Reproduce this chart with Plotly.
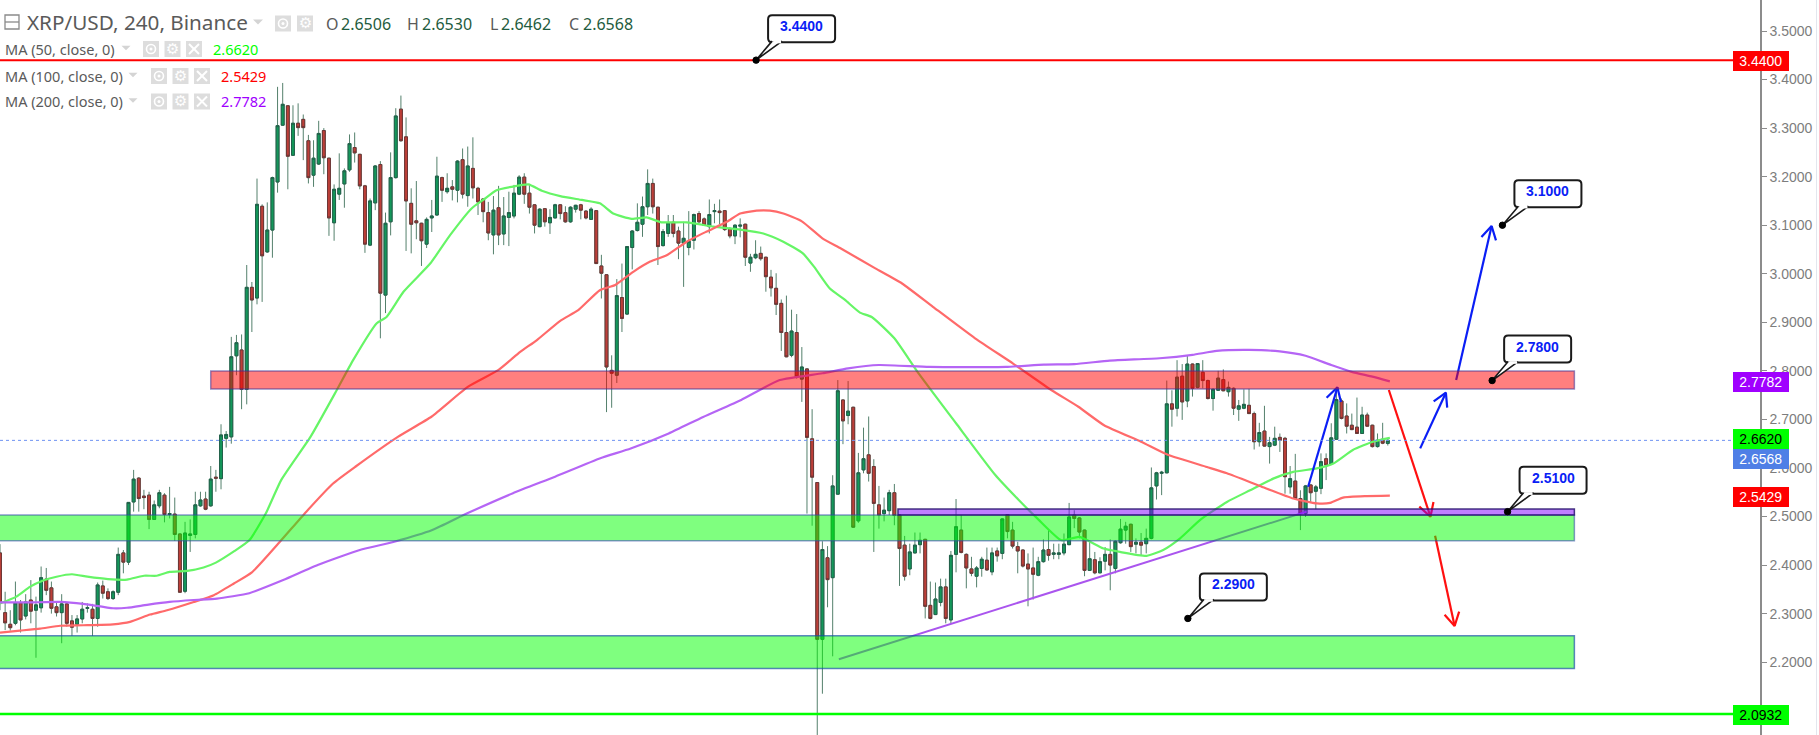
import math
import plotly.graph_objects as go

W, H = 1819, 735
AXIS_PX = 1760
PX_PER_BAR = 5.14
PX_PER_UNIT = 485.5
Y_TOP = 3.56385
Y_BOTTOM = 2.04995

opens = [
 2.425,2.302,2.278,2.280,2.322,2.295,2.328,2.307,2.312,2.371,
 2.353,2.314,2.302,2.320,2.285,2.278,2.289,2.311,2.309,2.290,
 2.357,2.345,2.331,2.344,2.425,2.406,2.530,2.579,2.542,2.544,
 2.494,2.522,2.544,2.504,2.505,2.464,2.346,2.461,2.463,2.522,
 2.536,2.522,2.581,2.578,2.661,2.664,2.831,2.843,2.762,2.972,
 2.950,3.139,3.045,3.090,3.189,3.306,3.346,3.244,3.310,3.318,
 3.274,3.203,3.226,3.295,3.238,3.105,3.164,3.185,3.214,3.260,
 3.246,3.181,3.059,3.146,3.225,2.956,3.107,3.198,3.339,3.282,
 3.145,3.109,3.104,3.061,3.115,3.121,3.198,3.169,3.179,3.172,
 3.235,3.161,3.217,3.176,3.154,3.126,3.080,3.136,3.082,3.116,
 3.119,3.164,3.199,3.166,3.142,3.097,3.134,3.105,3.115,3.142,
 3.126,3.107,3.133,3.142,3.129,3.112,3.130,3.016,2.998,2.801,
 2.791,2.951,2.917,3.054,3.089,3.102,3.138,3.186,3.137,3.058,
 3.083,3.106,3.088,3.063,3.054,3.069,3.124,3.113,3.097,3.128,
 3.129,3.130,3.093,3.078,3.098,3.102,3.022,3.033,3.042,3.034,
 2.993,2.970,2.939,2.879,2.832,2.879,2.783,2.804,2.660,2.570,
 2.247,2.415,2.374,2.546,2.740,2.708,2.725,2.491,2.596,2.627,
 2.603,2.524,2.506,2.512,2.549,2.503,2.441,2.392,2.425,2.442,
 2.453,2.317,2.298,2.323,2.355,2.287,2.422,2.472,2.422,2.392,
 2.377,2.393,2.410,2.386,2.429,2.424,2.504,2.472,2.438,2.431,
 2.402,2.394,2.379,2.407,2.432,2.422,2.422,2.425,2.442,2.503,
 2.497,2.472,2.389,2.411,2.384,2.408,2.422,2.393,2.446,2.472,
 2.484,2.443,2.447,2.444,2.455,2.563,2.589,2.590,2.732,2.723,
 2.789,2.738,2.814,2.766,2.797,2.780,2.743,2.760,2.782,2.757,
 2.764,2.721,2.723,2.729,2.712,2.654,2.676,2.644,2.647,2.663,
 2.661,2.561,2.573,2.537,2.506,2.565,2.552,2.558,2.619,2.608,
 2.659,2.738,2.707,2.688,2.684,2.671,2.709,2.688,2.644,2.659,2.6506,
]
highs = [
 2.443,2.345,2.307,2.366,2.328,2.340,2.369,2.335,2.397,2.394,
 2.366,2.324,2.340,2.324,2.297,2.297,2.324,2.321,2.320,2.364,
 2.368,2.352,2.348,2.436,2.431,2.529,2.596,2.581,2.555,2.551,
 2.533,2.555,2.548,2.561,2.539,2.465,2.489,2.494,2.551,2.551,
 2.551,2.604,2.596,2.690,2.676,2.870,2.874,2.875,3.018,2.983,
 3.196,3.143,3.147,3.200,3.385,3.393,3.347,3.347,3.351,3.328,
 3.286,3.275,3.315,3.300,3.239,3.184,3.248,3.217,3.287,3.291,
 3.247,3.183,3.155,3.224,3.232,3.126,3.250,3.341,3.367,3.322,
 3.176,3.191,3.105,3.116,3.152,3.241,3.200,3.207,3.193,3.234,
 3.258,3.262,3.281,3.179,3.155,3.148,3.160,3.181,3.158,3.169,
 3.183,3.203,3.207,3.185,3.143,3.135,3.135,3.133,3.144,3.143,
 3.139,3.139,3.142,3.144,3.131,3.137,3.131,3.039,2.999,2.832,
 2.989,3.021,3.057,3.090,3.145,3.159,3.215,3.196,3.138,3.092,
 3.121,3.121,3.097,3.107,3.129,3.124,3.129,3.116,3.153,3.144,
 3.153,3.131,3.096,3.102,3.114,3.103,3.041,3.069,3.056,3.035,
 3.008,3.001,2.947,2.955,2.926,2.917,2.849,2.805,2.721,2.571,
 2.449,2.439,2.585,2.781,2.741,2.779,2.726,2.631,2.683,2.706,
 2.618,2.563,2.539,2.555,2.567,2.504,2.460,2.444,2.467,2.467,
 2.454,2.366,2.364,2.372,2.372,2.429,2.536,2.503,2.424,2.417,
 2.398,2.417,2.436,2.436,2.436,2.496,2.505,2.489,2.448,2.432,
 2.424,2.436,2.417,2.453,2.474,2.444,2.444,2.465,2.528,2.513,
 2.499,2.473,2.448,2.427,2.416,2.437,2.453,2.451,2.495,2.489,
 2.485,2.455,2.466,2.475,2.601,2.592,2.594,2.780,2.760,2.822,
 2.814,2.831,2.815,2.816,2.822,2.782,2.764,2.800,2.803,2.778,
 2.766,2.740,2.762,2.763,2.716,2.693,2.728,2.664,2.685,2.671,
 2.664,2.604,2.629,2.554,2.565,2.566,2.565,2.630,2.630,2.692,
 2.765,2.743,2.733,2.712,2.745,2.726,2.714,2.689,2.671,2.693,2.662,
]
lows = [
 2.307,2.266,2.265,2.276,2.261,2.288,2.280,2.209,2.302,2.338,
 2.300,2.294,2.239,2.273,2.254,2.261,2.280,2.302,2.254,2.273,
 2.331,2.328,2.328,2.338,2.383,2.400,2.510,2.510,2.515,2.474,
 2.493,2.517,2.488,2.496,2.450,2.343,2.342,2.427,2.455,2.520,
 2.513,2.520,2.551,2.556,2.642,2.650,2.791,2.721,2.731,2.880,
 2.937,2.942,3.043,3.033,3.167,3.305,3.174,3.243,3.284,3.234,
 3.186,3.179,3.224,3.205,3.078,3.068,3.152,3.136,3.210,3.229,
 3.174,3.043,3.057,3.131,2.867,2.919,3.079,3.196,3.272,3.047,
 3.042,3.071,3.016,3.053,3.086,3.120,3.148,3.165,3.151,3.147,
 3.155,3.138,3.155,3.121,3.106,3.069,3.040,3.059,3.059,3.057,
 3.114,3.162,3.144,3.124,3.083,3.096,3.097,3.082,3.114,3.112,
 3.105,3.105,3.126,3.112,3.112,3.111,3.020,2.949,2.715,2.724,
 2.775,2.880,2.915,3.009,3.087,3.076,3.121,3.124,3.018,3.056,
 3.076,3.075,3.030,2.973,3.038,3.050,3.104,3.099,3.083,3.104,
 3.102,3.088,3.073,3.061,3.075,3.016,3.004,3.030,3.027,2.963,
 2.953,2.915,2.841,2.828,2.828,2.784,2.736,2.506,2.481,2.050,
 2.135,2.313,2.212,2.545,2.649,2.690,2.477,2.487,2.589,2.572,
 2.427,2.475,2.490,2.503,2.482,2.357,2.368,2.379,2.424,2.424,
 2.290,2.288,2.297,2.315,2.280,2.280,2.385,2.424,2.352,2.377,
 2.354,2.376,2.388,2.379,2.407,2.412,2.455,2.434,2.383,2.395,
 2.315,2.329,2.377,2.405,2.409,2.412,2.412,2.420,2.441,2.476,
 2.455,2.377,2.388,2.381,2.383,2.389,2.348,2.383,2.444,2.444,
 2.427,2.424,2.420,2.424,2.453,2.535,2.544,2.589,2.685,2.706,
 2.699,2.725,2.747,2.764,2.764,2.741,2.718,2.759,2.758,2.747,
 2.709,2.697,2.721,2.711,2.638,2.644,2.644,2.609,2.645,2.633,
 2.547,2.547,2.536,2.472,2.499,2.530,2.515,2.546,2.575,2.606,
 2.658,2.700,2.671,2.678,2.670,2.670,2.685,2.642,2.642,2.649,2.6462,
]
closes = [
 2.321,2.281,2.271,2.322,2.287,2.324,2.305,2.318,2.374,2.348,
 2.311,2.302,2.320,2.280,2.272,2.289,2.309,2.312,2.290,2.359,
 2.342,2.331,2.345,2.422,2.406,2.529,2.577,2.537,2.539,2.494,
 2.524,2.549,2.504,2.506,2.463,2.344,2.466,2.464,2.524,2.534,
 2.515,2.577,2.579,2.668,2.669,2.829,2.858,2.762,2.972,2.946,
 3.143,3.037,3.090,3.198,3.305,3.349,3.242,3.310,3.301,3.301,
 3.198,3.238,3.289,3.239,3.115,3.174,3.176,3.212,3.268,3.249,
 3.181,3.061,3.150,3.222,2.960,3.104,3.198,3.325,3.274,3.150,
 3.102,3.105,3.068,3.112,3.119,3.201,3.172,3.176,3.174,3.232,
 3.164,3.222,3.177,3.148,3.128,3.084,3.131,3.080,3.119,3.126,
 3.166,3.199,3.164,3.137,3.100,3.133,3.107,3.116,3.142,3.124,
 3.107,3.137,3.141,3.131,3.115,3.133,3.021,3.001,2.808,2.795,
 2.955,2.908,3.056,3.088,3.106,3.138,3.186,3.138,3.056,3.087,
 3.105,3.083,3.063,3.073,3.067,3.122,3.107,3.100,3.122,3.130,
 3.126,3.091,3.078,3.100,3.100,3.034,3.034,3.040,3.031,2.994,
 2.971,2.937,2.879,2.829,2.882,2.788,2.808,2.663,2.581,2.247,
 2.432,2.370,2.563,2.759,2.697,2.717,2.478,2.590,2.619,2.589,
 2.527,2.503,2.513,2.549,2.502,2.434,2.377,2.427,2.441,2.451,
 2.315,2.290,2.330,2.355,2.290,2.420,2.479,2.426,2.394,2.383,
 2.394,2.412,2.390,2.425,2.419,2.495,2.469,2.439,2.429,2.398,
 2.392,2.381,2.407,2.431,2.420,2.425,2.425,2.443,2.499,2.496,
 2.468,2.389,2.413,2.384,2.407,2.422,2.400,2.449,2.474,2.480,
 2.438,2.447,2.441,2.455,2.559,2.590,2.591,2.732,2.721,2.787,
 2.736,2.814,2.764,2.815,2.780,2.743,2.762,2.785,2.759,2.766,
 2.723,2.728,2.731,2.712,2.654,2.673,2.645,2.652,2.661,2.657,
 2.582,2.578,2.537,2.506,2.563,2.549,2.561,2.613,2.606,2.662,
 2.741,2.702,2.686,2.679,2.671,2.709,2.686,2.644,2.657,2.651,2.6568,
]
bars = list(range(len(opens)))

ma50_x = [0,3.2,5.8,8.4,11,14,17,21,24.7,28,30.5,33,36.4,39.6,42,45.5,48.5,51.7,54.7,60.4,65.5,68.7,73.3,75.2,78.5,83.7,87.6,91.8,94,96.6,99.5,102.8,105.4,109,113.2,116.7,119.3,122.9,125.8,128.7,133.6,138.8,144,148.5,152.4,156.2,158.4,161.4,164.4,167.3,169.6,174,178.5,186,193.6,198.2,202,206.5,210,214.7,217.9,223.1,226.3,229.6,233.5,238.7,243.2,247.7,251.6,256.2,259.4,263.2,267.1,270.4]
ma50_y = [2.321,2.335,2.355,2.368,2.376,2.381,2.376,2.371,2.370,2.378,2.378,2.386,2.388,2.395,2.405,2.428,2.451,2.506,2.575,2.664,2.760,2.822,2.898,2.911,2.963,3.021,3.080,3.135,3.152,3.172,3.179,3.184,3.171,3.160,3.152,3.145,3.124,3.113,3.116,3.106,3.106,3.097,3.091,3.083,3.066,3.042,3.014,2.970,2.946,2.920,2.911,2.867,2.798,2.692,2.586,2.534,2.494,2.451,2.458,2.434,2.427,2.419,2.431,2.455,2.493,2.530,2.554,2.578,2.592,2.599,2.609,2.637,2.654,2.662]
ma100_x = [0,3.9,7.8,11.7,16.2,22,25.3,29.2,32.5,37.7,41.6,45.5,49,54.7,59.6,64.8,69.2,77.4,84,91,97,101.2,104.4,109,112.5,116.7,119.7,123.2,126.5,129.7,133.6,137.5,141.4,144,147.2,149.8,152.4,156,160,163.6,170.3,175.5,181.5,189.7,197.1,204.6,209.8,214.8,222,227.2,234.8,238.7,245.1,251.6,256.2,258.8,261.3,265.9,270.4]
ma100_y = [2.261,2.265,2.269,2.275,2.276,2.278,2.283,2.298,2.307,2.324,2.338,2.362,2.385,2.451,2.510,2.568,2.603,2.664,2.706,2.767,2.802,2.839,2.863,2.903,2.925,2.966,2.977,3.004,3.025,3.038,3.066,3.087,3.107,3.124,3.130,3.130,3.124,3.108,3.073,3.052,3.011,2.980,2.932,2.867,2.815,2.760,2.726,2.688,2.654,2.627,2.602,2.589,2.563,2.537,2.527,2.528,2.539,2.542,2.5429]
ma200_x = [0,5.8,11.7,16.2,22,24.7,28.6,33,37.7,42.2,48.5,55.1,61.8,70,76.7,84.1,90.8,99.8,108,116.8,122.7,130.1,136.8,144.2,151.7,160,165,171,180.8,195.7,203.1,209,215.9,225.6,232,236.7,243,249,254,259,263,267,270.4]
ma200_y = [2.323,2.323,2.324,2.320,2.311,2.312,2.318,2.324,2.328,2.331,2.342,2.369,2.400,2.431,2.448,2.472,2.506,2.548,2.582,2.620,2.640,2.671,2.705,2.740,2.781,2.795,2.805,2.812,2.808,2.808,2.813,2.814,2.821,2.826,2.833,2.841,2.843,2.840,2.831,2.812,2.798,2.788,2.7782]

y_ticks = [2.2,2.3,2.4,2.5,2.6,2.7,2.8,2.9,3.0,3.1,3.2,3.3,3.4,3.5]
level_high, level_low, last_price = 3.44, 2.0932, 2.6568
zone_x0 = [41,-2,-2,174.7]
zone_x1 = [306.3,306.3,306.3,306.3]
zone_top = [2.7997,2.503,2.2545,2.5155]
zone_bottom = [2.7626,2.450,2.187,2.503]
zone_fill = ["rgba(255,0,0,0.5)","rgba(0,255,0,0.5)","rgba(0,255,0,0.5)","rgba(128,0,255,0.5)"]
zone_edge = ["rgba(60,50,150,0.55)","rgba(50,70,170,0.55)","rgba(20,70,170,0.65)","rgba(40,20,110,0.85)"]
trend_x = [163.2,254.2]
trend_y = [2.206,2.510]
arrow_start_x = [254.5,276.3,283.3,270.2,279.2]
arrow_start_y = [2.5614,2.6404,2.7812,2.7606,2.4605]
arrow_end_x = [260.2,281.3,290.2,278.3,283.0]
arrow_end_y = [2.7661,2.755,3.0983,2.4996,2.2745]
arrow_color = ["#0a1ef5","#0a1ef5","#0a1ef5","#ff1010","#ff1010"]
callout_x = [147.1,292.3,290.3,293.3,231.1]
callout_y = [3.44,3.10,2.78,2.51,2.29]
price_tags = [("3.4400",3.44,"#ff0000","#ffffff",-1),("2.7782",2.7782,"#a000ff","#ffffff",-1),
              ("2.6620",2.662,"#00ff00","#000000",-1),("2.6568",2.6568,"#4f7fe6","#ffffff",-19),
              ("2.5429",2.5429,"#ff0000","#ffffff",-1),("2.0932",2.0932,"#00ff00","#000000",-1)]
legend_rows = [("MA (50, close, 0)","2.6620","#00ff00",49,121,143,212),
               ("MA (100, close, 0)","2.5429","#ff0000",76,128,151,220),
               ("MA (200, close, 0)","2.7782","#a000ff",101.5,128,151,220)]
ohlc_text = [("O","2.6506",324.5,340),("H","2.6530",406,421),("L","2.6462",489,500),("C","2.6568",567.5,582)]

def px(x): return x/W
def py(y): return 1-y/H

fig = go.Figure()
fig.add_trace(go.Candlestick(x=bars,open=opens,high=highs,low=lows,close=closes,whiskerwidth=0,
    increasing=dict(line=dict(color="#54806c",width=1),fillcolor="rgba(0,0,0,0)"),
    decreasing=dict(line=dict(color="#54806c",width=1),fillcolor="rgba(0,0,0,0)"),hoverinfo="skip",showlegend=False))
tops=[max(o,c) for o,c in zip(opens,closes)]
bots=[min(o,c) for o,c in zip(opens,closes)]
fig.add_trace(go.Candlestick(x=bars,open=opens,high=tops,low=bots,close=closes,whiskerwidth=0,
    increasing=dict(line=dict(color="#22604a",width=1),fillcolor="#13985a"),
    decreasing=dict(line=dict(color="#6e3636",width=1),fillcolor="#bd3f38"),hoverinfo="skip",showlegend=False))
for xs,ys,c in [(ma50_x,ma50_y,"#66f566"),(ma100_x,ma100_y,"#ff6a6a"),(ma200_x,ma200_y,"#b565f5")]:
    fig.add_trace(go.Scatter(x=xs,y=ys,mode="lines",line=dict(color=c,width=2.2,shape="spline",smoothing=0.5),hoverinfo="skip",showlegend=False))
fig.add_trace(go.Scatter(x=trend_x,y=trend_y,mode="lines",line=dict(color="#aa55ee",width=2),hoverinfo="skip",showlegend=False))

for x0,y0,x1,y1,c in zip(arrow_start_x,arrow_start_y,arrow_end_x,arrow_end_y,arrow_color):
    dx=(x0-x1)*PX_PER_BAR; dy=(y0-y1)*PX_PER_UNIT
    n=math.hypot(dx,dy); dx/=n; dy/=n
    hx=[];hy=[]
    for a in (0.52,-0.52):
        rx=dx*math.cos(a)-dy*math.sin(a); ry=dx*math.sin(a)+dy*math.cos(a)
        hx.append(x1+rx*15/PX_PER_BAR); hy.append(y1+ry*15/PX_PER_UNIT)
    fig.add_trace(go.Scatter(x=[x0,x1,None,hx[0],x1,hx[1]],y=[y0,y1,None,hy[0],y1,hy[1]],mode="lines",
        line=dict(color=c,width=2.2),hoverinfo="skip",showlegend=False))

shapes=[]; ann=[]
for x0,x1,t,b,f,e in zip(zone_x0,zone_x1,zone_top,zone_bottom,zone_fill,zone_edge):
    shapes.append(dict(type="rect",xref="x",yref="y",x0=x0,x1=x1,y0=b,y1=t,fillcolor=f,line=dict(color=e,width=1.5),layer="above"))
shapes.append(dict(type="line",xref="x domain",yref="y",x0=0,x1=1,y0=level_high,y1=level_high,line=dict(color="#ff0000",width=2),layer="above"))
shapes.append(dict(type="line",xref="x domain",yref="y",x0=0,x1=1,y0=level_low,y1=level_low,line=dict(color="#00ff00",width=2.5),layer="above"))
shapes.append(dict(type="line",xref="x domain",yref="y",x0=0,x1=1,y0=last_price,y1=last_price,line=dict(color="#6f93f2",width=1,dash="dot"),layer="above"))
shapes.append(dict(type="line",xref="paper",yref="paper",x0=px(1816.5),x1=px(1816.5),y0=0,y1=1,line=dict(color="#e3e6ee",width=1)))

def rbox(l,b,w,h,r=4):
    return (f"M{l+r},{b} L{l+w-r},{b} Q{l+w},{b} {l+w},{b+r} L{l+w},{b+h-r} Q{l+w},{b+h} {l+w-r},{b+h} "
            f"L{l+r},{b+h} Q{l},{b+h} {l},{b+h-r} L{l},{b+r} Q{l},{b} {l+r},{b} Z")
for cx,cy in zip(callout_x,callout_y):
    common=dict(type="path",xref="x",yref="y",xsizemode="pixel",ysizemode="pixel",xanchor=cx,yanchor=cy,layer="above")
    shapes.append(dict(common,path=rbox(12,18,67,27),fillcolor="#ffffff",line=dict(color="#1a1a1a",width=2)))
    shapes.append(dict(common,path="M16,19 L0,0 L26,19",fillcolor="#ffffff",line=dict(color="#1a1a1a",width=1.6)))
    shapes.append(dict(common,path="M17.5,18 L25,18",line=dict(color="#ffffff",width=2.5)))
    shapes.append(dict(common,path="M-3.2,0 Q-3.2,3.2 0,3.2 Q3.2,3.2 3.2,0 Q3.2,-3.2 0,-3.2 Q-3.2,-3.2 -3.2,0 Z",fillcolor="#000000",line=dict(color="#000000",width=1)))
    ann.append(dict(xref="x",yref="y",x=cx,y=cy,text=f"{cy:.4f}",showarrow=False,xshift=45.5,yshift=34,
        font=dict(family="Liberation Sans",size=14,color="#0a1ef5",weight="bold")))

for text,val,bg,fg,shift in price_tags:
    ann.append(dict(xref="paper",yref="y",x=px(1788.5),y=val,text=text,showarrow=False,yshift=shift,
        width=55.5,height=20,bgcolor=bg,borderpad=0,borderwidth=0,
        font=dict(family="Liberation Sans",size=14,color=fg)))

GREY="#5a5a5a"
HF="Noto Sans"
def label(x,y,t,size,color,family=HF,anchor="left"):
    ann.append(dict(xref="paper",yref="paper",x=px(x),y=py(y),text=t,showarrow=False,xanchor=anchor,yanchor="middle",
        borderpad=0,font=dict(family=family,size=size,color=color)))
def tri(x,y,w=10,h=5,c="#d4d4d4"):
    shapes.append(dict(type="path",xref="paper",yref="paper",
        path=f"M{px(x-w/2)},{py(y-h/2)} L{px(x+w/2)},{py(y-h/2)} L{px(x)},{py(y+h/2)} Z",fillcolor=c,line=dict(width=0),layer="above"))
def square(x,yc,w=16,c="#dddddd"):
    shapes.append(dict(type="rect",xref="paper",yref="paper",x0=px(x),x1=px(x+w),y0=py(yc+w/2),y1=py(yc-w/2),fillcolor=c,line=dict(width=0),layer="above"))
def eye(x,yc):
    square(x,yc)
    cx=x+8
    shapes.append(dict(type="circle",xref="paper",yref="paper",x0=px(cx-4.5),x1=px(cx+4.5),y0=py(yc+4.5),y1=py(yc-4.5),line=dict(color="#ffffff",width=1.6),layer="above"))
    shapes.append(dict(type="circle",xref="paper",yref="paper",x0=px(cx-1.5),x1=px(cx+1.5),y0=py(yc+1.5),y1=py(yc-1.5),fillcolor="#ffffff",line=dict(width=0),layer="above"))
def gear(x,yc):
    square(x,yc)
    label(x+8,yc-0.5,"\u2699",15,"#ffffff","DejaVu Sans","center")
def cross(x,yc):
    square(x,yc)
    cx=x+8
    for s in (1,-1):
        shapes.append(dict(type="line",xref="paper",yref="paper",x0=px(cx-5),x1=px(cx+5),y0=py(yc-5*s),y1=py(yc+5*s),line=dict(color="#ffffff",width=2),layer="above"))

shapes.append(dict(type="rect",xref="paper",yref="paper",x0=px(5),x1=px(19),y0=py(29),y1=py(15),line=dict(color="#8a8a8a",width=1.3),layer="above"))
shapes.append(dict(type="line",xref="paper",yref="paper",x0=px(5),x1=px(19),y0=py(22),y1=py(22),line=dict(color="#8a8a8a",width=1.3),layer="above"))
label(26,22,"XRP/USD, 240, Binance",20.7,GREY)
tri(258,22)
eye(275,23.5); gear(297,23.5)
for letter,val,lx,vx in ohlc_text:
    label(lx,24,letter,16,GREY)
    label(vx,24,val,16,"#1f5c40")
for name,val,col,yc,tx,sx,vx in legend_rows:
    label(3.5,yc,name,14.5,GREY)
    tri(tx+5,yc-1,9,4.5)
    eye(sx,yc); gear(sx+21.5,yc); cross(sx+43,yc)
    label(vx,yc,val,14.5,col)

fig.update_layout(width=W,height=H,margin=dict(l=0,r=0,t=0,b=0,pad=0),paper_bgcolor="#ffffff",plot_bgcolor="#ffffff",
    showlegend=False,hovermode=False,boxgap=0.2,shapes=shapes,annotations=ann,
    xaxis=dict(domain=[0,AXIS_PX/W],range=[0,AXIS_PX/PX_PER_BAR],visible=False,rangeslider=dict(visible=False),fixedrange=True),
    yaxis=dict(side="right",range=[Y_BOTTOM,Y_TOP],tickmode="array",tickvals=y_ticks,ticktext=[f"{v:.4f}" for v in y_ticks],
        showgrid=False,zeroline=False,showline=True,linecolor="#8c8c8c",linewidth=1.5,ticks="outside",ticklen=5,tickcolor="#8c8c8c",
        tickfont=dict(family="Liberation Sans",size=14,color="#7d7d7d"),fixedrange=True,automargin=False))

fig.write_html("out.html",config=dict(displayModeBar=False),
    post_script="document.documentElement.style.overflow='hidden';document.body.style.margin='0';document.body.style.overflow='hidden';")
